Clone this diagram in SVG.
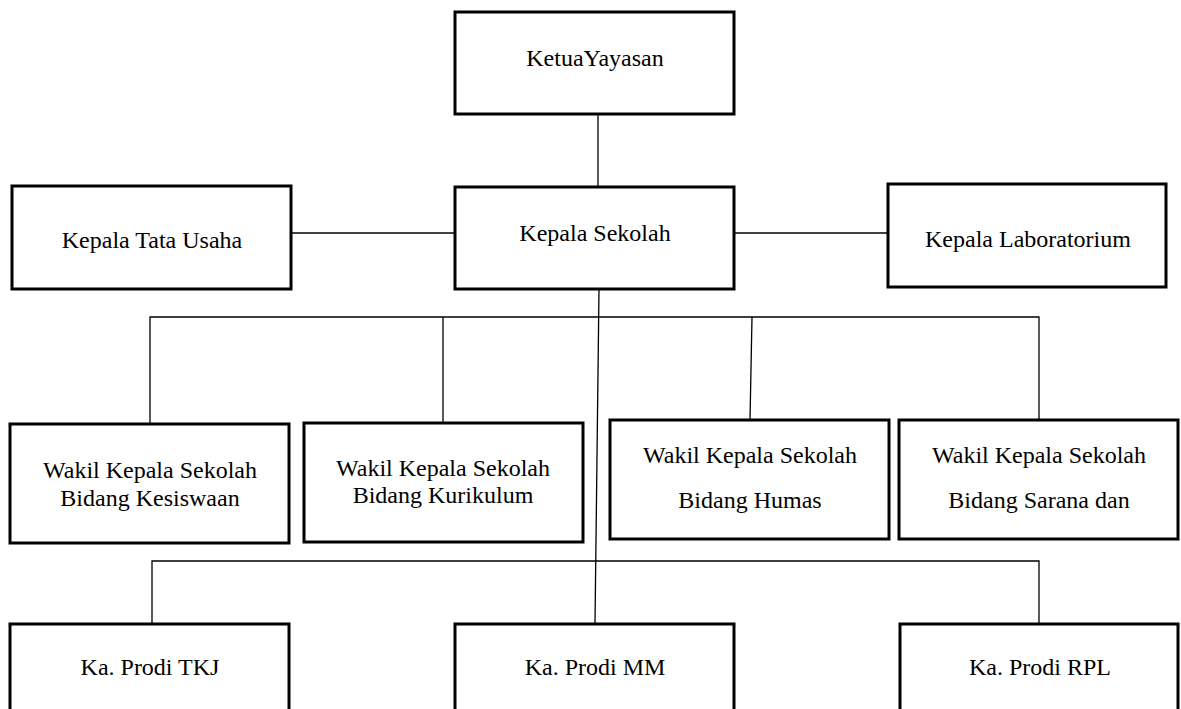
<svg xmlns="http://www.w3.org/2000/svg" width="1181" height="709" viewBox="0 0 1181 709">
<style>
.box{fill:#fff;stroke:#000;stroke-width:3}
.t{font-family:"Liberation Serif","Times New Roman",serif;font-size:24px;fill:#000;text-anchor:middle}
.c{stroke:#000;stroke-width:1.3;fill:none}
</style>
<rect width="1181" height="709" fill="#fff"/>
<g id="connectors">
<line class="c" x1="598" y1="114" x2="598" y2="187"/>
<line class="c" x1="291" y1="233" x2="455" y2="233"/>
<line class="c" x1="734" y1="233" x2="888" y2="233"/>
<line class="c" x1="599" y1="289" x2="595" y2="624"/>
<polyline class="c" points="150,424 150,317 1039,317 1039,420"/>
<line class="c" x1="443" y1="317" x2="443" y2="423"/>
<line class="c" x1="752" y1="317" x2="750" y2="420"/>
<polyline class="c" points="152,624 152,561 1039,561 1039,624"/>
</g>
<g id="ketua"><rect class="box" x="455" y="12" width="279" height="102"/><text class="t" x="595" y="66">KetuaYayasan</text></g>
<g id="tatausaha"><rect class="box" x="12" y="186" width="279" height="103"/><text class="t" x="152" y="248">Kepala Tata Usaha</text></g>
<g id="kepsek"><rect class="box" x="455" y="187" width="279" height="102"/><text class="t" x="595" y="241">Kepala Sekolah</text></g>
<g id="lab"><rect class="box" x="888" y="184" width="278" height="103"/><text class="t" x="1028" y="247">Kepala Laboratorium</text></g>
<g id="kesiswaan"><rect class="box" x="10" y="424" width="279" height="119"/><text class="t" x="150" y="478">Wakil Kepala Sekolah</text><text class="t" x="150" y="506">Bidang Kesiswaan</text></g>
<g id="kurikulum"><rect class="box" x="304" y="423" width="279" height="119"/><text class="t" x="443" y="476">Wakil Kepala Sekolah</text><text class="t" x="443" y="503">Bidang Kurikulum</text></g>
<g id="humas"><rect class="box" x="610" y="420" width="279" height="119"/><text class="t" x="750" y="463">Wakil Kepala Sekolah</text><text class="t" x="750" y="508">Bidang Humas</text></g>
<g id="sarana"><rect class="box" x="899" y="420" width="279" height="119"/><text class="t" x="1039" y="463">Wakil Kepala Sekolah</text><text class="t" x="1039" y="508">Bidang Sarana dan</text></g>
<g id="tkj"><rect class="box" x="10" y="624" width="279" height="100"/><text class="t" x="150" y="675">Ka. Prodi TKJ</text></g>
<g id="mm"><rect class="box" x="455" y="624" width="279" height="100"/><text class="t" x="595" y="675">Ka. Prodi MM</text></g>
<g id="rpl"><rect class="box" x="900" y="624" width="278" height="100"/><text class="t" x="1040" y="675">Ka. Prodi RPL</text></g>
</svg>
